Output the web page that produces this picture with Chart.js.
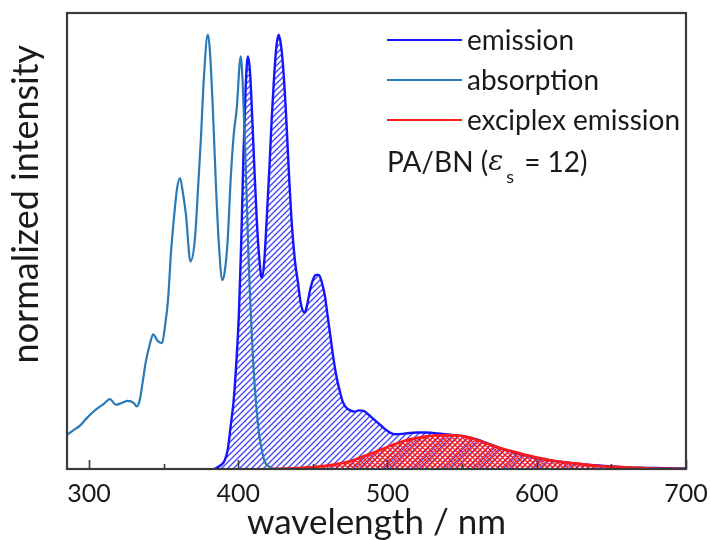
<!DOCTYPE html>
<html><head><meta charset="utf-8">
<script src="https://cdn.jsdelivr.net/npm/chart.js@4/dist/chart.umd.min.js"></script>
<style>html,body{margin:0;padding:0;background:#fff;overflow:hidden}</style>
</head><body>
<canvas id="c" width="711" height="540"></canvas>
<script>
// ---- data ----
const xTicks = [300, 400, 500, 600, 700];
const xMinorTicks = [350, 450, 550, 650];

const absWl  = [285, 290, 294, 298, 302, 307, 310, 314, 318, 322, 326, 330, 332, 334, 336, 338, 341, 343, 346, 349, 351, 353, 355, 357, 359, 361, 363, 365, 368, 371, 373, 375, 377, 379.6, 381, 383, 385, 387, 389.4, 391, 393, 395, 397, 399, 401.7, 403, 405, 407, 410, 412, 414, 416, 418, 421, 425, 430];
const absVal = [0.078, 0.09, 0.10, 0.115, 0.129, 0.143, 0.15, 0.161, 0.148, 0.152, 0.157, 0.152, 0.144, 0.158, 0.20, 0.245, 0.29, 0.31, 0.295, 0.29, 0.33, 0.39, 0.50, 0.58, 0.645, 0.67, 0.635, 0.585, 0.478, 0.53, 0.64, 0.76, 0.90, 1.0, 0.965, 0.83, 0.66, 0.52, 0.435, 0.455, 0.53, 0.67, 0.77, 0.83, 0.95, 0.89, 0.70, 0.48, 0.25, 0.15, 0.08, 0.04, 0.015, 0.005, 0.0, 0.0];

const emWl  = [384, 388, 391, 393, 395, 397, 399, 400.5, 402, 403.5, 405, 406.5, 408, 409.5, 411, 412.5, 414, 415.8, 417.5, 419, 421, 422.5, 424, 425.5, 427, 428.5, 430, 432, 434, 436, 438, 440, 442, 444.5, 446, 448, 450, 452, 454, 456, 458, 460, 462, 464, 466, 468, 470, 472, 475, 478, 481, 484, 487, 490, 493, 496, 499, 502, 505, 510, 515, 520, 525, 530, 537, 545, 553, 560, 567, 574, 580, 587, 594, 602, 610, 620, 630, 642, 655, 670, 685, 700];
const emVal = [0, 0.008, 0.02, 0.045, 0.10, 0.16, 0.26, 0.36, 0.52, 0.72, 0.88, 0.95, 0.91, 0.80, 0.68, 0.57, 0.49, 0.44, 0.48, 0.57, 0.70, 0.81, 0.90, 0.97, 1.0, 0.98, 0.93, 0.82, 0.68, 0.56, 0.48, 0.43, 0.38, 0.36, 0.375, 0.41, 0.435, 0.447, 0.447, 0.43, 0.40, 0.35, 0.30, 0.25, 0.21, 0.18, 0.155, 0.143, 0.135, 0.132, 0.135, 0.134, 0.126, 0.117, 0.108, 0.099, 0.09, 0.083, 0.08, 0.081, 0.083, 0.084, 0.084, 0.083, 0.081, 0.078, 0.074, 0.068, 0.059, 0.05, 0.043, 0.036, 0.03, 0.024, 0.019, 0.015, 0.011, 0.008, 0.005, 0.003, 0.002, 0.001];

const exWl  = [420, 440, 455, 465, 475, 486, 493, 500, 507, 513, 519, 524, 532, 540, 547, 553, 560, 566.5, 573, 580, 587, 593, 602, 611, 620, 631, 642, 653, 665, 680, 700];
const exVal = [0, 0.002, 0.006, 0.011, 0.018, 0.032, 0.041, 0.051, 0.06, 0.067, 0.071, 0.074, 0.077, 0.078, 0.077, 0.074, 0.067, 0.059, 0.051, 0.044, 0.038, 0.032, 0.025, 0.019, 0.015, 0.011, 0.007, 0.005, 0.003, 0.001, 0];

const seriesNames = ['emission', 'absorption', 'exciplex emission'];
const noteText = 'PA/BN (';

// ---- styles ----
const cEm = '#1414ff', cAbs = '#2a7ab8', cEx = '#ff1a1a', cText = '#1a1a1a', cFrame = '#3a3a3a';

function hatch(color, cross, size, lw) {
  const c = document.createElement('canvas');
  c.width = size; c.height = size;
  const g = c.getContext('2d');
  g.strokeStyle = color; g.lineWidth = lw;
  g.beginPath();
  g.moveTo(-1, size + 1); g.lineTo(size + 1, -1);
  g.moveTo(-1, 1); g.lineTo(1, -1);
  g.moveTo(size - 1, size + 1); g.lineTo(size + 1, size - 1);
  if (cross) {
    g.moveTo(-1, -1); g.lineTo(size + 1, size + 1);
    g.moveTo(size - 1, -1); g.lineTo(size + 1, 1);
    g.moveTo(-1, size - 1); g.lineTo(1, size + 1);
  }
  g.stroke();
  return g.createPattern(c, 'repeat');
}

const pts = (w, v) => w.map((x, i) => ({x, y: v[i]}));

const ctx = document.getElementById('c').getContext('2d');
const emPattern = hatch('rgba(30,30,255,0.85)', false, 6, 1.3);
const exPattern = hatch('rgba(255,20,20,0.95)', true, 5, 1.3);

const framePlugin = {
  id: 'frame',
  afterDatasetsDraw(chart) {
    const {ctx, chartArea: a, scales: {x}} = chart;
    ctx.save();
    ctx.strokeStyle = cFrame;
    ctx.lineWidth = 1.6;
    ctx.beginPath();
    xTicks.forEach(v => { const p = Math.round(x.getPixelForValue(v)) + 0.5; ctx.moveTo(p, a.bottom); ctx.lineTo(p, a.bottom - 9); });
    xMinorTicks.forEach(v => { const p = Math.round(x.getPixelForValue(v)) + 0.5; ctx.moveTo(p, a.bottom); ctx.lineTo(p, a.bottom - 5); });
    ctx.stroke();
    ctx.lineWidth = 2.2;
    ctx.strokeRect(a.left, a.top, a.right - a.left, a.bottom - a.top);
    ctx.restore();
  }
};

const legendPlugin = {
  id: 'customLegend',
  afterDraw(chart) {
    const {ctx} = chart;
    const cols = [cEm, cAbs, cEx];
    ctx.save();
    ctx.font = '28px Lato';
    ctx.fillStyle = cText;
    ctx.textBaseline = 'middle';
    ctx.textAlign = 'left';
    seriesNames.forEach((n, i) => {
      const y = 40 + i * 40;
      ctx.strokeStyle = cols[i]; ctx.lineWidth = 2;
      ctx.beginPath(); ctx.moveTo(387, y); ctx.lineTo(462, y); ctx.stroke();
      ctx.fillText(n, 467, y + 1);
    });
    // PA/BN (eps_s = 12)
    let x = 387, y = 163;
    ctx.fillText(noteText, x, y); x += ctx.measureText(noteText).width;
    ctx.font = 'italic 28px "DejaVu Serif"';
    ctx.fillText('\u03B5', x, y); x += ctx.measureText('\u03B5').width + 3;
    ctx.font = '18px Lato';
    ctx.fillText('s', x, y + 14); x += ctx.measureText('s').width + 3;
    ctx.font = '28px Lato';
    ctx.fillText(' = 12)', x, y);
    ctx.restore();
  }
};

Chart.defaults.color = cText;
Chart.defaults.font.family = 'Lato';

new Chart(ctx, {
  type: 'line',
  data: {
    datasets: [
      {label: seriesNames[1], data: pts(absWl, absVal), borderColor: cAbs, borderWidth: 2.2, fill: false, pointRadius: 0, cubicInterpolationMode: 'monotone'},
      {label: seriesNames[2], data: pts(exWl, exVal), borderColor: cEx, borderWidth: 2.6, backgroundColor: exPattern, fill: 'origin', pointRadius: 0, cubicInterpolationMode: 'monotone'},
      {label: seriesNames[0], data: pts(emWl, emVal), borderColor: cEm, borderWidth: 2.4, backgroundColor: emPattern, fill: 'origin', pointRadius: 0, cubicInterpolationMode: 'monotone'}
    ]
  },
  options: {
    responsive: false,
    animation: false,
    devicePixelRatio: 1,
    layout: {padding: {left: 0, right: 25, top: 13, bottom: 0}},
    plugins: {legend: {display: false}, tooltip: {enabled: false}},
    scales: {
      x: {
        type: 'linear', min: 285.3, max: 700,
        afterFit: s => { s.height = 71; s.paddingLeft = 0; s.paddingRight = 0; },
        afterBuildTicks: s => { s.ticks = xTicks.map(v => ({value: v})); },
        grid: {display: false, drawTicks: false},
        border: {display: false},
        ticks: {padding: 10, font: {size: 25}, color: cText, maxRotation: 0, autoSkip: false},
        title: {display: true, text: 'wavelength / nm', font: {size: 35, lineHeight: 1.0}, padding: {top: 0, bottom: 0}}
      },
      y: {
        min: 0, max: 1.05,
        afterFit: s => { s.width = 67; },
        grid: {display: false, drawTicks: false},
        border: {display: false},
        ticks: {display: false},
        title: {display: true, text: '        normalized intensity', font: {size: 36}, padding: {top: 5, bottom: 0}}
      }
    }
  },
  plugins: [framePlugin, legendPlugin]
});
</script>
</body></html>
